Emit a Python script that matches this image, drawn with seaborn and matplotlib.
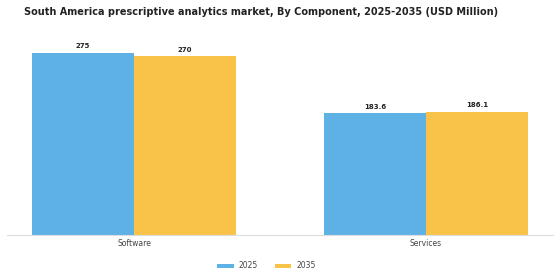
import matplotlib
matplotlib.use("Agg")
import matplotlib.pyplot as plt
import seaborn as sns
import pandas as pd

# data
components = ["Software", "Services"]
years = ["2025", "2035"]
values_2025 = [275, 183.6]
values_2035 = [270, 186.1]
labels_2025 = ["275", "183.6"]
labels_2035 = ["270", "186.1"]

df = pd.DataFrame({
    "component": components * 2,
    "year": [years[0]] * 2 + [years[1]] * 2,
    "value": values_2025 + values_2035,
})

sns.set_style("white")
plt.rcParams["font.family"] = ["DejaVu Sans"]

fig = plt.figure(figsize=(5.6, 2.8), dpi=100)
ax = fig.add_axes([0.0125, 0.161, 0.975, 0.70])

palette = {"2025": "#5DB1E4", "2035": "#F8C348"}
sns.barplot(data=df, x="component", y="value", hue="year", order=components,
            hue_order=years, palette=palette, width=0.7, saturation=1,
            linewidth=0, ax=ax, errorbar=None)

for cont, labs in zip(ax.containers, [labels_2025, labels_2035]):
    ax.bar_label(cont, labels=labs, padding=2.5, fontsize=5, fontweight="bold",
                 color="#222222")

ax.set_xlim(-0.435, 1.435)
ax.set_ylim(0, 296)
ax.set_xlabel("")
ax.set_ylabel("")
ax.set_yticks([])
ax.tick_params(axis="x", length=0, labelsize=5.5, labelcolor="#444444", pad=3)
for s in ["top", "right", "left"]:
    ax.spines[s].set_visible(False)
ax.spines["bottom"].set_color("#dddddd")
ax.spines["bottom"].set_linewidth(0.8)

ax.legend(loc="upper center", bbox_to_anchor=(0.475, -0.1), ncol=2,
          frameon=False, fontsize=5.5, handlelength=2.2, handleheight=0.5,
          columnspacing=2.2, handletextpad=0.6, labelcolor="#444444")

fig.suptitle("South America prescriptive analytics market, By Component, 2025-2035 (USD Million)",
             x=0.467, y=0.975, fontsize=7, fontweight="bold", color="#222222")

fig.savefig("out.png", dpi=100)
